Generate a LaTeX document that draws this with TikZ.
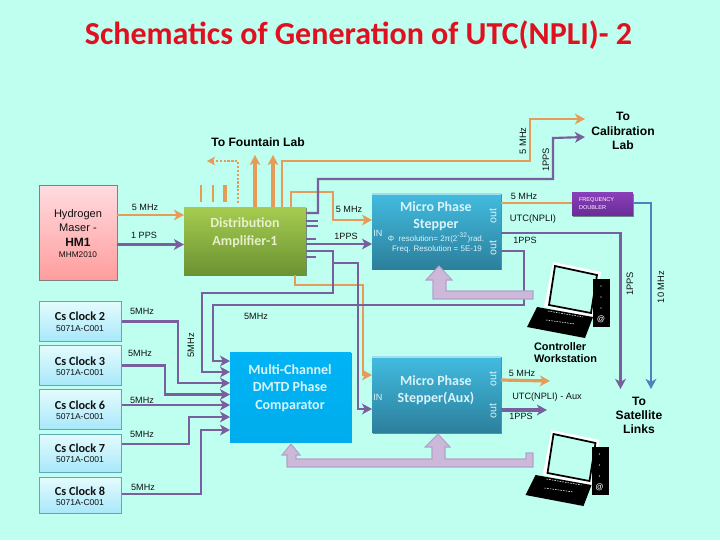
\documentclass[tikz,border=0pt]{standalone}
\usepackage{fontspec}
\setmainfont{Liberation Sans}
\newfontfamily\calfnt{Carlito}
\usetikzlibrary{arrows.meta,shadows}
\definecolor{bgc}{HTML}{BEFFEF}
\definecolor{pur}{HTML}{7A5F9E}
\definecolor{ora}{HTML}{E59C58}
\definecolor{blu}{HTML}{4F81BD}
\definecolor{lav}{HTML}{CDB8DA}
\definecolor{lavb}{HTML}{B3A2C8}
\definecolor{ink}{HTML}{111111}
\definecolor{ttl}{HTML}{E01020}
\definecolor{csline}{HTML}{5FA8B8}
\definecolor{cstop}{HTML}{E4FBFD}
\definecolor{csbot}{HTML}{A8E8FA}
\definecolor{pinkt}{HTML}{FFDCE0}
\definecolor{pinkb}{HTML}{FF9C9C}
\definecolor{grt}{HTML}{A6CC50}
\definecolor{grb}{HTML}{6B9232}
\definecolor{stt}{HTML}{42BCE0}
\definecolor{stb}{HTML}{2C7F9C}
\definecolor{mct}{HTML}{00B4F5}
\definecolor{mcb}{HTML}{00ACEC}
\definecolor{fdt}{HTML}{8A3FB8}
\definecolor{fdb}{HTML}{6A2C98}
\definecolor{datxt}{HTML}{E6F0CC}
\definecolor{sttxt}{HTML}{D8F4FA}
\newcommand\fz[1]{\fontsize{#1pt}{#1pt}\selectfont}
\newcommand\computer[2]{%
\begin{scope}[shift={(#1,#2)}]
\fill[white] (553,262) -- (601,272) -- (593,318) -- (544,307) -- cycle;
\draw[black,line width=1.3pt,fill=bgc] (555,266) -- (597,275) -- (591,313) -- (549,305) -- cycle;
\fill[black] (537,307) -- (593,317) -- (585,338) -- (527,327) -- cycle;
\draw[white,line width=.4pt,dash pattern=on 1.2pt off .8pt] (546,320) -- (575,324);
\draw[white,line width=.4pt,dash pattern=on 1.2pt off .8pt] (548,311) -- (583,317);
\fill[black] (593,279) rectangle (610,327);
\fill[white] (601,286) circle (.6) (601,297) circle (.6) (601,308) circle (.6);
\end{scope}}
\tikzset{x=.75pt,y=-.75pt,
 every node/.style={inner sep=0pt,outer sep=0pt,align=center,text=ink},
 lab/.style={font=\fz{6.8}},
 rlab/.style={font=\fz{7},rotate=90},
 olab/.style={font=\fz{8},rotate=90,text=sttxt},
 big/.style={font=\fz{9},text=black},
 boxsh/.style={rectangle,drop shadow={shadow xshift=.6pt,shadow yshift=-.9pt,opacity=.45,fill=black}},
 wt/.style={font=\calfnt\bfseries\fz{10.5}},
 csbox/.style={rectangle,draw=csline,line width=.6pt,top color=cstop,bottom color=csbot,minimum width=62pt},
 cst/.style={font=\calfnt\bfseries\fz{9.2},text=ink},
 csm/.style={font=\fz{6.4}},
 po/.style={draw=ora,line width=2pt},
 pp/.style={draw=pur,line width=1.6pt},
 pq/.style={draw=pur,line width=2.1pt},
 ar/.style={-{Stealth[length=7.5pt,width=8pt,inset=2pt]}},
 blockar/.style={draw=lavb,fill=lav,line width=.8pt,line join=miter},
 stub/.style={draw=pur,line width=1.3pt},
 ostub/.style={draw=ora,line width=2pt},
}
\begin{document}
\begin{tikzpicture}
\fill[bgc] (0,0) rectangle (720,540);
\useasboundingbox (0,0) rectangle (720,540);

\node[font=\calfnt\bfseries\fz{24},text=ttl] (title) at (358.5,35) {Schematics of Generation of UTC(NPLI)- 2};

% boxes
\node[rectangle,draw=gray,line width=.6pt,top color=pinkt,bottom color=pinkb,minimum width=58.5pt,minimum height=71.5pt] (hm) at (78,233) {};
\node[font=\fz{8.3}] (hmt) at (78,220.5) {Hydrogen\\[2.4pt]Maser -};
\node[font=\bfseries\fz{9}] (hmb) at (78,242) {HM1};
\node[font=\fz{6.2}] (hmm) at (78,255) {MHM2010};

\node[boxsh,top color=grt,bottom color=grb,minimum width=91.5pt,minimum height=51pt] (da) at (245,241) {};
\node[wt,text=datxt] (dat) at (245,232.5) {Distribution\\[2.6pt]Amplifier-1};

\node[boxsh,top color=stt,bottom color=stb,minimum width=96.7pt,minimum height=57pt] (ms) at (436.5,231) {};
\fill[stt!50!white] (ms.north west) rectangle ([yshift=-1.4pt]ms.north east);
\node[wt,text=sttxt] (mst) at (436,216) {Micro Phase\\[2.2pt]Stepper};
\node[font=\fz{6},text=sttxt] (msr) at (436,238) {Φ\ \ resolution= 2π(2\textsuperscript{-32})rad.};
\node[font=\fz{6},text=sttxt] (msf) at (437,249.5) {Freq. Resolution = 5E-19};

\node[boxsh,top color=stt,bottom color=stb,minimum width=96.7pt,minimum height=57.5pt] (aux) at (436.5,394.5) {};
\fill[stt!50!white] (aux.north west) rectangle ([yshift=-1.4pt]aux.north east);
\node[wt,text=sttxt] (auxt) at (436,390.5) {Micro Phase\\[2.2pt]Stepper(Aux)};

\node[boxsh,top color=mct,bottom color=mcb,minimum width=90.7pt,minimum height=67.5pt] (mc) at (290.5,397) {};
\node[wt,text=sttxt] (mct) at (290,388) {Multi-Channel\\[2.4pt]DMTD Phase\\[2.4pt]Comparator};

\node[boxsh,top color=fdt,bottom color=fdb,minimum width=45.7pt,minimum height=17.5pt] (fd) at (602.5,204) {};
\node[font=\fz{4.2},text=white,align=left,anchor=west] (fdl) at (579,203.5) {FREQUENCY\\[2.4pt]DOUBLER};

\node[csbox,minimum height=29.5pt] (c2) at (80.5,321.5) {};
\node[csbox,minimum height=29.5pt] (c3) at (80.5,365.5) {};
\node[csbox,minimum height=29.5pt] (c6) at (80.5,409.5) {};
\node[csbox,minimum height=28.5pt] (c7) at (80.5,453) {};
\node[csbox,minimum height=26.5pt] (c8) at (80.5,495.5) {};
\node[cst] (c2t) at (80,316) {Cs Clock 2};
\node[csm] (c2m) at (80,329) {5071A-C001};
\node[cst] (c3t) at (80,361) {Cs Clock 3};
\node[csm] (c3m) at (80,373) {5071A-C001};
\node[cst] (c6t) at (80,405) {Cs Clock 6};
\node[csm] (c6m) at (80,417) {5071A-C001};
\node[cst] (c7t) at (80,448) {Cs Clock 7};
\node[csm] (c7m) at (80,460) {5071A-C001};
\node[cst] (c8t) at (80,491) {Cs Clock 8};
\node[csm] (c8m) at (80,503) {5071A-C001};

% free ends
\coordinate (fdot) at (207,161);
\coordinate (f1) at (255,155);
\coordinate (f2) at (273,155);
\coordinate (cal5) at (585,119);
\coordinate (cal1) at (585,137);
\coordinate (sat1) at (620.5,389);
\coordinate (sat2) at (651,389);
\coordinate (aux5) at (550,381);
\coordinate (aux1) at (547,410);

% stubs
\draw[ostub] (201,185) -- (201,202);
\draw[ostub] (213,185) -- (213,202);
\draw[ostub,line width=2.6pt] (225,185) -- (225,202);
\draw[stub] (da.east |- 0,221) -- ++(12,0);
\draw[stub] (da.east |- 0,226) -- ++(12,0);
\draw[stub] (da.east |- 0,239) -- ++(10,0);
\draw[stub] (da.east |- 0,257) -- ++(10,0);

% orange
\draw[ora,line width=1.6pt,dash pattern=on 1.7pt off 1.2pt,-{Stealth[length=6pt,width=6.5pt,inset=1.5pt]}] (238,203) -- (238,161) -- (fdot);
\draw[po,line width=3pt,ar] (f1 |- da.north) -- (f1);
\draw[po,line width=2.6pt,ar] (f2 |- da.north) -- (f2);
\draw[po,ar] (da.north -| 282,0) -- (282,161) -- (530,161) -- (530,119) -- (cal5);
\draw[po,ar] (da.north -| 291,0) -- (291,192) -- (333,192) -- (333,220) -- (ms.west |- 0,220);
\draw[po,ar] (da.south -| 295,0) -- (295,285) -- (363,285) -- (363,375) -- (aux.west |- 0,375);
\draw[po,ar] (hm.east |- 0,215) -- (da.west |- 0,215);
\draw[po] (ms.east |- 0,203) -- (fd.west |- 0,203);
\draw[po,line width=2.4pt,ar] (aux.east |- 0,380) -- (aux5);

% purple
\draw[pq,ar] (hm.east |- 0,244.5) -- (da.west |- 0,244.5);
\draw[pp,ar] (da.east |- 0,213) -- (318,213) -- (318,179) -- (553,179) -- (553,138) -- (cal1);
\draw[pq,ar] (da.east |- 0,244) -- (ms.west |- 0,244);
\draw[pp,ar] (da.east |- 0,251) -- (333,251) -- (333,293) -- (202,293) -- (202,372) -- (mc.west |- 0,372);
\draw[pp,ar] (333,263) -- (358,263) -- (358,409) -- (aux.west |- 0,409);
\draw[pp,ar] (ms.east |- 0,251) -- (524,251) -- (524,305) -- (213,305) -- (213,361) -- (mc.west |- 0,361);
\draw[pq,ar] (c2.east |- 0,321.5) -- (178,321.5) -- (178,383) -- (mc.west |- 0,383);
\draw[pq,ar] (c3.east) -- (165,365.5) -- (165,394.5) -- (mc.west |- 0,394.5);
\draw[pq,ar] (c6.east |- 0,405) -- (mc.west |- 0,405);
\draw[pq,ar] (c7.east |- 0,444) -- (189,444) -- (189,417) -- (mc.west |- 0,417);
\draw[pq,ar] (c8.east |- 0,494) -- (201,494) -- (201,430) -- (mc.west |- 0,430);
\draw[pp,line width=1.8pt,ar] (ms.east |- 0,233) -- (620.5,233) -- (sat1);
\draw[pq,line width=2.6pt,ar] (aux.east |- 0,410) -- (aux1);
\draw[blu,line width=2pt,ar] (fd.east |- 0,203) -- (651,203) -- (sat2);

% block arrows
\draw[blockar] (533,291) -- (446,291) -- (446,280) -- (452,280) -- (439,266) -- (426,280) -- (433,280) -- (433,299) -- (533,299) -- cycle;
\draw[blockar] (287,467) -- (287,455) -- (282,455) -- (291,444) -- (300,455) -- (296,455) -- (296,459) -- (432,459) -- (432,447) -- (425,447) -- (438,434) -- (450,447) -- (445,447) -- (445,459) -- (526,459) -- (526,453) -- (533,453) -- (533,467) -- cycle;

\computer{0}{0}
\computer{-1.5}{168}
\node[font=\bfseries\fz{6},text=white] (at1) at (601,319) {@};
\node[font=\bfseries\fz{6},text=white] (at2) at (599.5,487) {@};

% labels
\node[big,font=\bfseries\fz{9.1}] (lfl) at (258,142) {To Fountain Lab};
\node[big,font=\bfseries\fz{9.1}] (lcal) at (623,131) {To\\[1.6pt]Calibration\\[1.6pt]Lab};
\node[big,font=\bfseries\fz{9.1}] (lsat) at (639,415.5) {To\\[1.6pt]Satellite\\[1.6pt]Links};
\node[big,font=\bfseries\fz{8.2},align=left,anchor=west] (lcw) at (534,352.5) {Controller\\[1.4pt]Workstation};

\node[lab] (a1) at (145,207) {5 MHz};
\node[lab] (a2) at (144,235) {1 PPS};
\node[lab] (a3) at (349,209) {5 MHz};
\node[lab] (a4) at (346,236) {1PPS};
\node[lab] (a5) at (524,196) {5 MHz};
\node[lab,font=\fz{7}] (a6) at (533,219) {UTC(NPLI)};
\node[lab] (a7) at (525,240) {1PPS};
\node[lab] (a8) at (142,311) {5MHz};
\node[lab] (a9) at (256,316) {5MHz};
\node[lab] (a10) at (140,353) {5MHz};
\node[lab] (a11) at (142,400) {5MHz};
\node[lab] (a12) at (142,434) {5MHz};
\node[lab] (a13) at (143,487) {5MHz};
\node[lab] (a14) at (522,373) {5 MHz};
\node[lab,font=\fz{6.9}] (a15) at (547,397) {UTC(NPLI) - Aux};
\node[lab] (a16) at (521,416) {1PPS};
\node[rlab] (r1) at (523,141) {5 MHz};
\node[rlab] (r2) at (546,160) {1PPS};
\node[rlab] (r3) at (630,284) {1PPS};
\node[rlab] (r4) at (661,287) {10 MHz};
\node[rlab] (r5) at (191,345) {5MHz};
\node[olab] (o1) at (493,216) {out};
\node[olab] (o2) at (493,248) {out};
\node[olab] (o3) at (493,379) {out};
\node[olab] (o4) at (493,411) {out};
\node[lab,text=sttxt] (i1) at (378,233) {IN};
\node[lab,text=sttxt] (i2) at (378,397) {IN};
\end{tikzpicture}
\end{document}
